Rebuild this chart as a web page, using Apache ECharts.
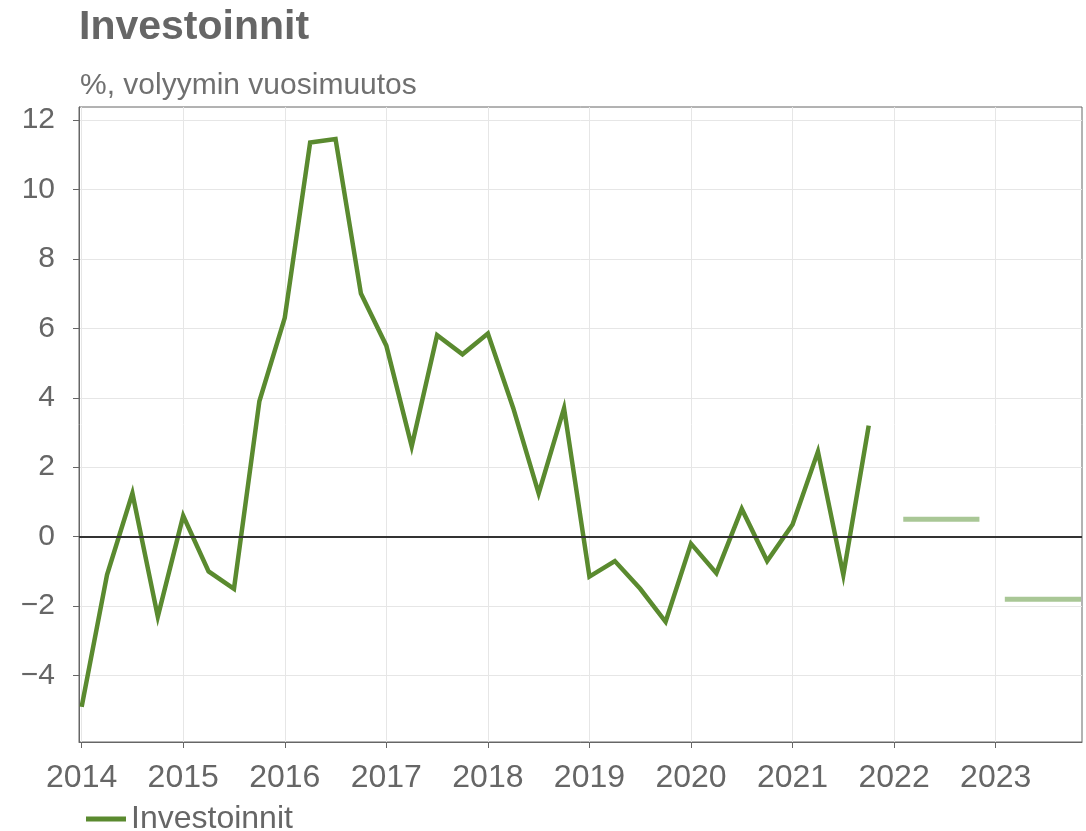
<!DOCTYPE html>
<html>
<head>
<meta charset="utf-8">
<script src="https://cdn.jsdelivr.net/npm/echarts@6/dist/echarts.min.js"></script>
<style>
  html, body { margin: 0; padding: 0; background: #fff; }
  #chart { width: 1086px; height: 831px; }
</style>
</head>
<body>
<div id="chart"></div>
<script>
// neljännesvuosittaiset havainnot
const quarters = [
  "2014Q1", "2014Q2", "2014Q3", "2014Q4",
  "2015Q1", "2015Q2", "2015Q3", "2015Q4",
  "2016Q1", "2016Q2", "2016Q3", "2016Q4",
  "2017Q1", "2017Q2", "2017Q3", "2017Q4",
  "2018Q1", "2018Q2", "2018Q3", "2018Q4",
  "2019Q1", "2019Q2", "2019Q3", "2019Q4",
  "2020Q1", "2020Q2", "2020Q3", "2020Q4",
  "2021Q1", "2021Q2", "2021Q3", "2021Q4"
];
const investoinnit = [
  -4.9, -1.1, 1.25, -2.3,
  0.6, -1.0, -1.5, 3.9,
  6.3, 11.35, 11.45, 7.0,
  5.5, 2.6, 5.8, 5.25,
  5.85, 3.7, 1.25, 3.7,
  -1.15, -0.7, -1.5, -2.45,
  -0.2, -1.05, 0.8, -0.7,
  0.35, 2.45, -1.1, 3.2
];
// ennuste, vuositaso
const forecastYears = [2022, 2023];
const forecastValues = [0.5, -1.8];

const yearTicks = [2014, 2015, 2016, 2017, 2018, 2019, 2020, 2021, 2022, 2023];
const valueTicks = [-4, -2, 0, 2, 4, 6, 8, 10, 12];

const GREEN = "#5a8a2f";
const LIGHT_GREEN = "#a9c796";
const TEXT = "#666666";
const FONT = "'Liberation Sans', Arial, sans-serif";

function quarterPos(q) {
  const year = parseInt(q.slice(0, 4), 10);
  const n = parseInt(q.slice(5), 10);
  return year + (n - 1) / 4;
}

const mainData = quarters.map((q, i) => [quarterPos(q), investoinnit[i]]);

const forecastSeries = forecastYears.map((y, i) => ({
  name: "Ennuste " + y,
  type: "line",
  data: [[y + 0.09, forecastValues[i]], [y + 0.84, forecastValues[i]]],
  symbol: "none",
  silent: true,
  lineStyle: { color: LIGHT_GREEN, width: 5, cap: "butt" },
  z: 3
}));

const chart = echarts.init(document.getElementById("chart"), null, { renderer: "canvas" });

chart.setOption({
  animation: false,
  textStyle: { fontFamily: FONT },
  title: [
    {
      text: "Investoinnit",
      left: 79,
      top: 7,
      padding: 0,
      textStyle: { fontSize: 41, fontWeight: "bold", color: TEXT, fontFamily: FONT }
    },
    {
      text: "%, volyymin vuosimuutos",
      left: 80,
      top: 71,
      padding: 0,
      textStyle: { fontSize: 30, fontWeight: "normal", color: "#707070", fontFamily: FONT }
    }
  ],
  legend: {
    left: 86,
    top: 803,
    padding: 0,
    icon: "rect",
    itemWidth: 40,
    itemHeight: 5,
    itemGap: 8,
    data: ["Investoinnit"],
    textStyle: { fontSize: 32, color: TEXT, fontFamily: FONT }
  },
  grid: {
    left: 79,
    right: 4,
    top: 107,
    bottom: 89,
    show: true,
    borderColor: "#666",
    borderWidth: 1,
    containLabel: false
  },
  xAxis: {
    type: "value",
    min: 2013.974,
    max: 2023.85,
    axisLine: { show: true, onZero: false, lineStyle: { color: "#666", width: 1 } },
    axisTick: { show: true, length: 6, customValues: yearTicks, lineStyle: { color: "#666" } },
    axisLabel: {
      customValues: yearTicks,
      margin: 20,
      fontSize: 32,
      color: TEXT,
      fontFamily: FONT,
      formatter: v => String(Math.round(v))
    },
    splitLine: { show: true, lineStyle: { color: "#e6e6e6", width: 1 } }
  },
  yAxis: {
    type: "value",
    min: -5.91,
    max: 12.37,
    axisLine: { show: true, lineStyle: { color: "#666", width: 1 } },
    axisTick: { show: true, length: 6, customValues: valueTicks, lineStyle: { color: "#666" } },
    axisLabel: {
      customValues: valueTicks,
      margin: 24,
      fontSize: 30,
      color: TEXT,
      fontFamily: FONT,
      formatter: v => (v < 0 ? "\u2212" + Math.abs(v) : String(v))
    },
    splitLine: { show: true, lineStyle: { color: "#e6e6e6", width: 1 } }
  },
  series: [
    {
      name: "Investoinnit",
      type: "line",
      data: mainData,
      symbol: "none",
      lineStyle: { color: GREEN, width: 4.5, join: "miter" },
      itemStyle: { color: GREEN },
      z: 4,
      markLine: {
        silent: true,
        symbol: "none",
        label: { show: false },
        lineStyle: { color: "#333", width: 2, type: "solid" },
        data: [{ yAxis: 0 }]
      }
    }
  ].concat(forecastSeries)
});
</script>
</body>
</html>
